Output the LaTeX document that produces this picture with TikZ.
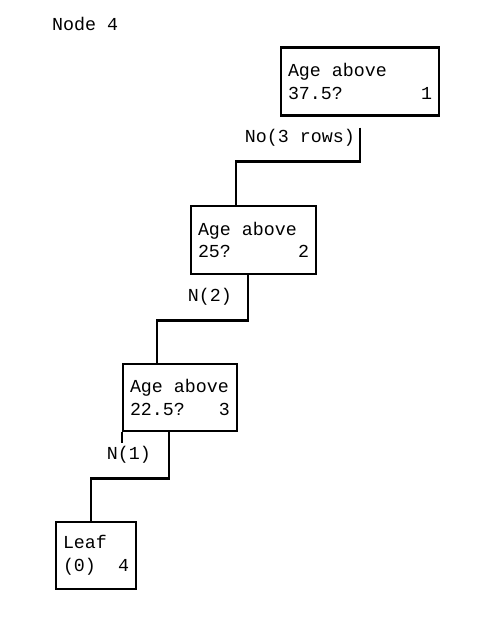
\documentclass[tikz,border=0pt]{standalone}
\usepackage{fontspec}
\setmonofont{Liberation Mono}
\newcommand\twolines[2]{\spaceskip=0pt\relax #1\\#2}
\tikzset{splitbox/.style={draw,line width=2.5pt,inner xsep=7pt,inner ysep=0pt,align=left,font=\ttfamily\fontsize{18.3}{22.5}\selectfont},
  edgelbl/.style={inner sep=0pt,font=\ttfamily\fontsize{18.3}{22.5}\selectfont},
  wire/.style={line width=2.5pt}}
\begin{document}
\begin{tikzpicture}[x=1pt,y=-1pt]
\useasboundingbox (0,0) rectangle (500,631);
\node[edgelbl,anchor=base west] (title) at (52,31) {Node 4};
\node[splitbox,minimum width=158pt,minimum height=68pt,text width=144pt] (n1) at (360,81.5) {\twolines{Age above}{37.5?\hfill 1}};
\node[splitbox,minimum width=125pt,minimum height=68pt,text width=111pt] (n2) at (253.5,240) {\twolines{Age above}{25?\hfill 2}};
\node[splitbox,minimum width=114pt,minimum height=67pt,text width=100pt] (n3) at (180,397.5) {\twolines{Age above}{22.5?\hfill 3}};
\node[splitbox,minimum width=80pt,minimum height=67pt,text width=66pt] (n4) at (96,555.5) {\twolines{Leaf}{(0)\hfill 4}};
% connectors
\draw[wire] ([yshift=-11pt]n1.south) -- ++(0,34) -| ([xshift=-17.5pt]n2.north);
\draw[wire] ([xshift=-5.5pt]n2.south) -- ++(0,45) -| ([xshift=-23pt]n3.north);
\draw[wire] ([xshift=-11pt]n3.south) -- ++(0,46) -| ([xshift=-5pt]n4.north);
\draw[wire] (n3.south west) -- ++(0,11);
\node[edgelbl,anchor=base east] (l1) at (355,143) {No(3 rows)};
\node[edgelbl,anchor=base east] (l2) at (232,301) {N(2)};
\node[edgelbl,anchor=base east] (l3) at (151,459) {N(1)};
\end{tikzpicture}
\end{document}
